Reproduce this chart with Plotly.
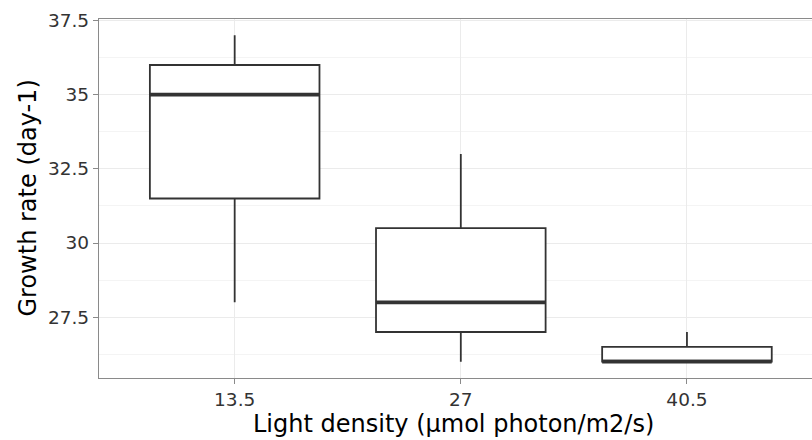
import plotly.graph_objects as go

# Data
categories = ["13.5", "27", "40.5"]
lower_whisker = [28.0, 26.0, 26.0]
q1_vals = [31.5, 27.0, 26.0]
median_vals = [35.0, 28.0, 26.0]
q3_vals = [36.0, 30.5, 26.5]
upper_whisker = [37.0, 33.0, 27.0]
y_tick_vals = [27.5, 30.0, 32.5, 35.0, 37.5]
y_tick_text = ["27.5", "30", "32.5", "35", "37.5"]
y_minor_vals = [26.25, 28.75, 31.25, 33.75, 36.25]

positions = list(range(len(categories)))
box_width = 0.75
box_color = "#333333"
grey = "#8a8a8a"
font_family = "DejaVu Sans"

fig = go.Figure()
fig.add_trace(go.Box(
    x=positions,
    q1=q1_vals,
    median=median_vals,
    q3=q3_vals,
    lowerfence=lower_whisker,
    upperfence=upper_whisker,
    width=box_width,
    whiskerwidth=0,
    fillcolor="white",
    line=dict(color=box_color, width=1.8),
    boxpoints=False,
    hoverinfo="skip",
    showlegend=False,
))

# thicker median lines (ggplot fatten)
for p, m in zip(positions, median_vals):
    fig.add_shape(type="line", xref="x", yref="y",
                  x0=p - box_width / 2, x1=p + box_width / 2, y0=m, y1=m,
                  line=dict(color=box_color, width=3.8))

fig.update_layout(
    width=812, height=440,
    margin=dict(l=99, r=0, t=19, b=62),
    paper_bgcolor="white", plot_bgcolor="white",
    font=dict(family=font_family),
    showlegend=False,
)

fig.update_xaxes(
    range=[-0.6, 2.553],
    tickmode="array", tickvals=positions, ticktext=categories,
    showgrid=True, gridcolor="#ebebeb", gridwidth=1.3,
    zeroline=False,
    showline=True, linecolor=grey, linewidth=1.3, mirror=True,
    ticks="outside", ticklen=5, tickcolor=grey, tickwidth=1.3,
    tickfont=dict(size=18.5, color="#333333", family=font_family),
)
fig.update_yaxes(
    range=[25.45, 37.55],
    tickmode="array", tickvals=y_tick_vals, ticktext=y_tick_text,
    showgrid=True, gridcolor="#ebebeb", gridwidth=1.3,
    minor=dict(tickmode="array", tickvals=y_minor_vals,
               showgrid=True, gridcolor="#f4f4f4", gridwidth=0.8),
    zeroline=False,
    showline=True, linecolor=grey, linewidth=1.3, mirror=False,
    ticks="outside", ticklen=5, tickcolor=grey, tickwidth=1.3,
    tickfont=dict(size=18.5, color="#333333", family=font_family),
)

fig.add_annotation(text="Light density (µmol photon/m2/s)",
                   xref="paper", yref="paper", x=0.5, y=0, xshift=-2,
                   yshift=-46, xanchor="center", yanchor="middle",
                   showarrow=False, font=dict(size=24, color="black", family=font_family))
fig.add_annotation(text="Growth rate (day-1)",
                   xref="paper", yref="paper", x=0, y=0.5, xshift=-72,
                   xanchor="center", yanchor="middle", textangle=-90,
                   showarrow=False, font=dict(size=24, color="black", family=font_family))

fig.write_html("out.html")
